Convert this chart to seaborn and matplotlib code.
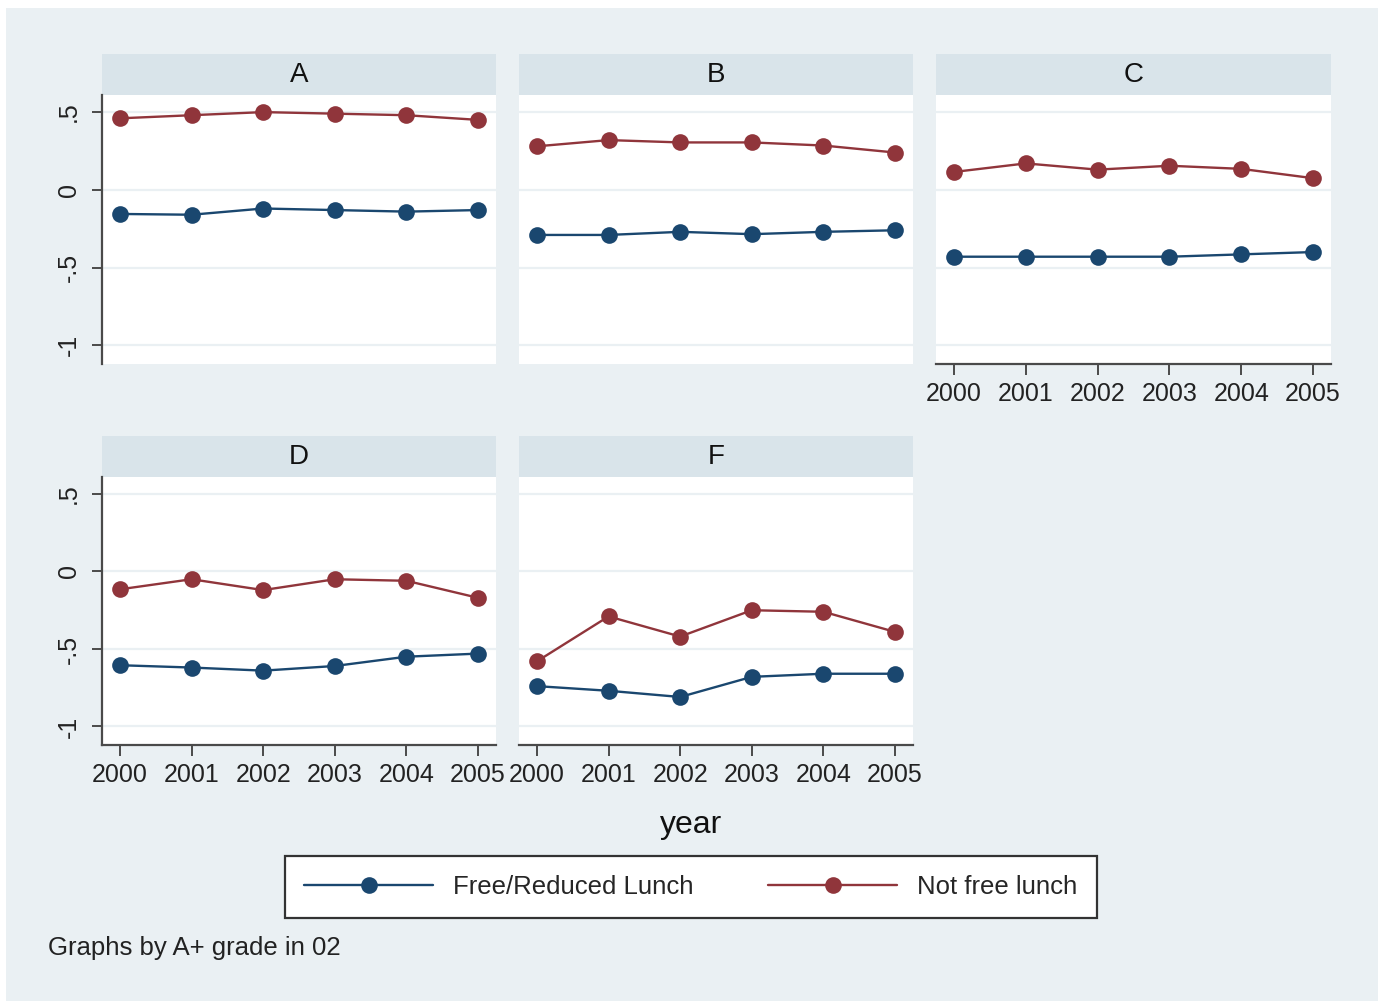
import pandas as pd
import seaborn as sns
import matplotlib.pyplot as plt
from matplotlib.lines import Line2D
from matplotlib.patches import Rectangle

years = [2000, 2001, 2002, 2003, 2004, 2005]
grades = ["A", "B", "C", "D", "F"]

# free/reduced lunch (blue) and not free lunch (red), one list per grade
frl_a = [-0.155, -0.16, -0.12, -0.13, -0.14, -0.13]
nfl_a = [0.46, 0.48, 0.50, 0.49, 0.48, 0.45]
frl_b = [-0.29, -0.29, -0.27, -0.285, -0.27, -0.26]
nfl_b = [0.28, 0.32, 0.305, 0.305, 0.285, 0.24]
frl_c = [-0.43, -0.43, -0.43, -0.43, -0.415, -0.40]
nfl_c = [0.115, 0.17, 0.13, 0.155, 0.135, 0.075]
frl_d = [-0.605, -0.62, -0.64, -0.61, -0.55, -0.53]
nfl_d = [-0.115, -0.05, -0.12, -0.05, -0.06, -0.17]
frl_f = [-0.74, -0.77, -0.81, -0.68, -0.66, -0.66]
nfl_f = [-0.58, -0.29, -0.42, -0.25, -0.26, -0.39]

groups = ["Free/Reduced Lunch", "Not free lunch"]
y_ticks = [-1, -0.5, 0, 0.5]
y_tick_labels = ["-1", "-.5", "0", ".5"]

frl_all = [frl_a, frl_b, frl_c, frl_d, frl_f]
nfl_all = [nfl_a, nfl_b, nfl_c, nfl_d, nfl_f]

rows = []
for grade, frl, nfl in zip(grades, frl_all, nfl_all):
    for yr, v1, v2 in zip(years, frl, nfl):
        rows.append({"grade": grade, "year": yr, "group": groups[0], "score": v1})
        rows.append({"grade": grade, "year": yr, "group": groups[1], "score": v2})
df = pd.DataFrame(rows)

blue = "#1a476f"
red = "#90353b"
bg = "#eaf0f3"
strip = "#d9e4ea"
axis_col = "#4a4a4a"

sns.set_theme(style="white")
plt.rcParams['font.family'] = ['Liberation Sans', 'DejaVu Sans']

g = sns.relplot(data=df, x="year", y="score", hue="group", col="grade",
                col_wrap=3, kind="line", marker="o", markersize=12,
                markeredgewidth=0, linewidth=1.7, legend=False,
                palette={groups[0]: blue, groups[1]: red},
                height=3, aspect=1.3)
fig = g.figure
fig.set_size_inches(13.83, 10.01)
fig.set_dpi(100)
fig.patch.set_facecolor("white")
W, H = 1383, 1001
fig.patches.append(Rectangle((6 / W, 0), 1372 / W, 993 / H, transform=fig.transFigure,
                             facecolor=bg, edgecolor="none", zorder=-1))

g.set_titles("")
g.set_axis_labels("", "")

boxes = [(102, 95, 496, 364), (519, 95, 913, 364), (936, 95, 1331, 364),
         (102, 477, 496, 745), (519, 477, 913, 745)]
left_col = [True, False, False, True, False]
has_xaxis = [False, False, True, True, True]

for i, ax in enumerate(g.axes.flat):
    x0, y0, x1, y1 = boxes[i]
    ax.set_position([x0 / W, 1 - y1 / H, (x1 - x0) / W, (y1 - y0) / H])
    ax.set_facecolor("white")
    ax.set_xlim(1999.75, 2005.25)
    ax.set_ylim(-1.12, 0.61)
    ax.set_xticks(years)
    ax.set_yticks(y_ticks)
    ax.set_yticklabels(y_tick_labels)
    ax.yaxis.grid(True, color=bg, linewidth=1.6)
    ax.xaxis.grid(False)
    ax.set_axisbelow(True)
    for s in ax.spines.values():
        s.set_visible(False)
    ax.spines["left"].set_visible(left_col[i])
    ax.spines["bottom"].set_visible(has_xaxis[i])
    for s in ["left", "bottom"]:
        ax.spines[s].set_color(axis_col)
        ax.spines[s].set_linewidth(1.6)
    ax.tick_params(axis="y", left=left_col[i], labelleft=left_col[i],
                   length=7, width=1.4, color=axis_col, pad=8,
                   labelsize=18, labelcolor="#222222")
    ax.tick_params(axis="x", bottom=has_xaxis[i], labelbottom=has_xaxis[i],
                   length=8, width=1.4, color=axis_col, pad=5,
                   labelsize=18, labelcolor="#222222")
    for lab in ax.get_yticklabels():
        lab.set_rotation(90)
        lab.set_va("center")
    sh = 41 / (y1 - y0)
    ax.add_patch(Rectangle((0, 1), 1, sh, transform=ax.transAxes,
                           facecolor=strip, edgecolor="none", clip_on=False))
    ax.text(0.5, 1 + sh / 2, grades[i], transform=ax.transAxes,
            ha="center", va="center", fontsize=20, color="#111111")

fig.text(691 / W, 1 - 825 / H, "year", ha="center", va="center",
         fontsize=23, color="#111111")

handles = [Line2D([], [], color=blue, marker="o", markersize=12, markeredgewidth=0, linewidth=1.7),
           Line2D([], [], color=red, marker="o", markersize=12, markeredgewidth=0, linewidth=1.7)]
leg = fig.legend(handles, groups, loc="center", bbox_to_anchor=(691 / W, 1 - 887 / H),
                 ncol=2, frameon=True, fancybox=False, edgecolor="#333333",
                 facecolor="white", framealpha=1, handlelength=5.0,
                 columnspacing=2.9, handletextpad=0.8, fontsize=18.5,
                 borderpad=0.75)
leg.get_frame().set_linewidth(1.6)

fig.text(48 / W, 1 - 948 / H, "Graphs by A+ grade in 02", ha="left", va="center",
         fontsize=18.5, color="#222222")

fig.savefig("out.png", dpi=100)
